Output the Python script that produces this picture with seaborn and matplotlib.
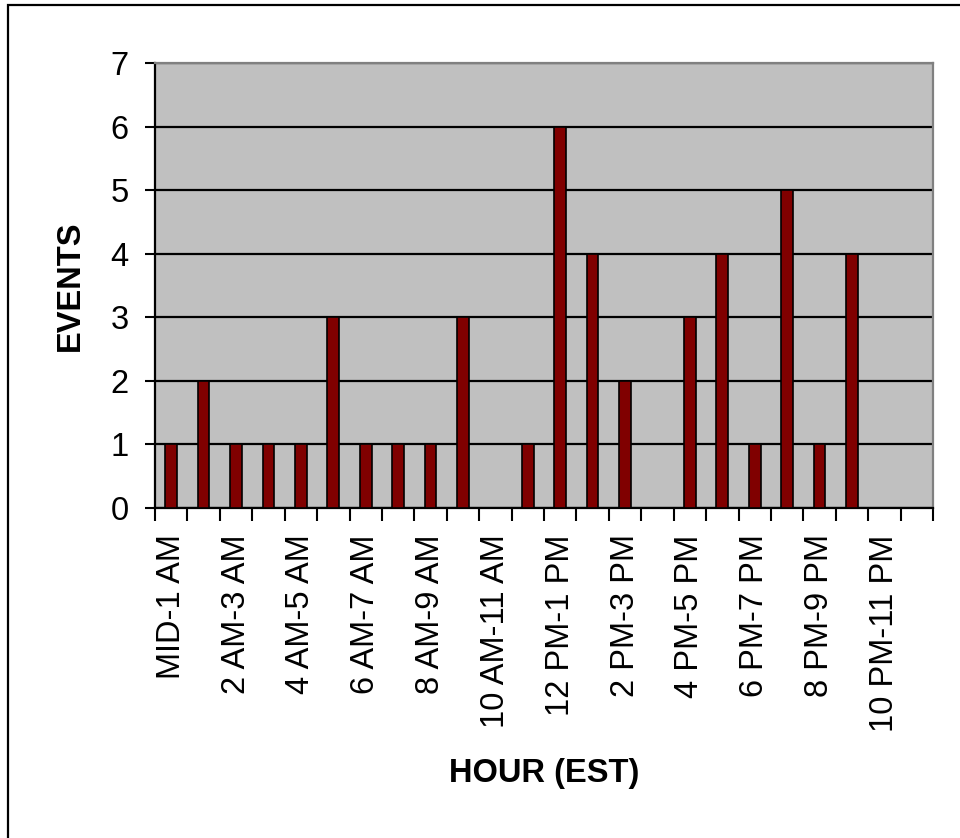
import numpy as np
import pandas as pd
import matplotlib
matplotlib.use('Agg')
import matplotlib.pyplot as plt
from matplotlib.patches import Rectangle
import seaborn as sns

# Hourly event counts (EST)
hours = ['MID-1 AM', '1 AM-2 AM', '2 AM-3 AM', '3 AM-4 AM', '4 AM-5 AM', '5 AM-6 AM',
         '6 AM-7 AM', '7 AM-8 AM', '8 AM-9 AM', '9 AM-10 AM', '10 AM-11 AM', '11 AM-NOON',
         '12 PM-1 PM', '1 PM-2 PM', '2 PM-3 PM', '3 PM-4 PM', '4 PM-5 PM', '5 PM-6 PM',
         '6 PM-7 PM', '7 PM-8 PM', '8 PM-9 PM', '9 PM-10 PM', '10 PM-11 PM', '11 PM-MID']
events = [1, 2, 1, 1, 1, 3, 1, 1, 1, 3, 0, 1, 6, 4, 2, 0, 3, 4, 1, 5, 1, 4, 0, 0]
yticks = [0, 1, 2, 3, 4, 5, 6, 7]

df = pd.DataFrame({'hour': hours, 'events': events})

sns.set_style('white')
plt.rcParams['font.family'] = ['Liberation Sans', 'DejaVu Sans']
plt.rcParams['text.color'] = 'black'
plt.rcParams['xtick.color'] = 'black'
plt.rcParams['ytick.color'] = 'black'
plt.rcParams['axes.labelcolor'] = 'black'

W, H = 960, 838
fig = plt.figure(figsize=(W / 100, H / 100), dpi=100)
ax = fig.add_axes([155 / W, 1 - 508 / H, (933 - 155) / W, (508 - 63) / H])
ax.set_facecolor('#C0C0C0')

sns.barplot(data=df, x='hour', y='events', order=hours, color='#800000',
            width=0.36, edgecolor='black', linewidth=1.2, saturation=1, ax=ax, zorder=3)

ax.set_xlim(-0.5, len(hours) - 0.5)
ax.set_ylim(0, 7)
ax.set_yticks(yticks)
ax.yaxis.grid(True, color='black', linewidth=1.6)
ax.set_axisbelow(True)

# labels on every other hour, ticks between categories
pos = np.arange(len(hours))
ax.set_xticks(pos[::2])
ax.set_xticklabels(hours[::2], rotation=90, fontsize=23.5)
ax.set_xticks(np.arange(len(hours) + 1) - 0.5, minor=True)
ax.tick_params(axis='x', which='major', bottom=True, length=0, pad=19)
ax.tick_params(axis='x', which='minor', bottom=True, length=9, width=1.5, color='black', direction='out')
ax.tick_params(axis='y', left=True, length=7, width=1.5, color='black', pad=12, labelsize=23.5, direction='out')

for s in ['left', 'bottom']:
    ax.spines[s].set_color('black')
    ax.spines[s].set_linewidth(1.6)
for s in ['top', 'right']:
    ax.spines[s].set_color('#808080')
    ax.spines[s].set_linewidth(1.6)

ax.set_ylabel('EVENTS', fontsize=23.5, fontweight='bold')
ax.yaxis.label.set_verticalalignment('center')
ax.yaxis.set_label_coords((70 - 155) / (933 - 155), 0.5)
ax.set_xlabel('HOUR (EST)', fontsize=23.5, fontweight='bold')
ax.xaxis.label.set_verticalalignment('center')
ax.xaxis.set_label_coords(0.5, -(773 - 508) / (508 - 63))

# outer chart frame (cut off at right and bottom like the original)
fig.add_artist(Rectangle((8 / W, -0.1), 1.2, 1 - 5 / H + 0.1, transform=fig.transFigure,
                         fill=False, edgecolor='black', linewidth=1.6))

fig.savefig('out.png', dpi=100, facecolor='white')
